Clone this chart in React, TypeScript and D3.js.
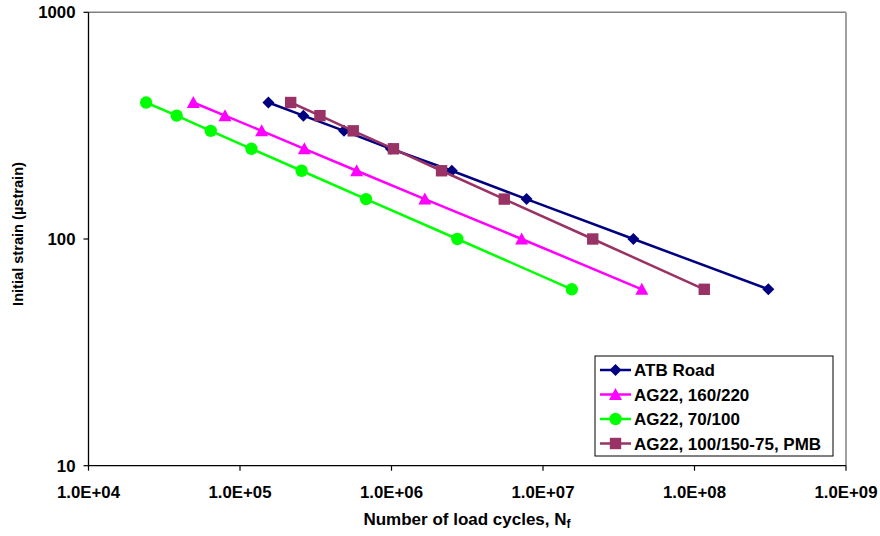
import React from "react";
import * as d3 from "d3";

const strainLevels = [400, 350, 300, 250, 200, 150, 100, 60];
const atbRoad = [1.54e5, 2.62e5, 4.86e5, 9.9e5, 2.5e6, 7.79e6, 3.95e7, 3.07e8];
const ag22_160 = [4.92e4, 7.96e4, 1.39e5, 2.66e5, 5.89e5, 1.66e6, 7.23e6, 4.49e7];
const ag22_70 = [2.4e4, 3.82e4, 6.41e4, 1.19e5, 2.55e5, 6.79e5, 2.72e6, 1.55e7];
const ag22_pmb = [2.16e5, 3.37e5, 5.59e5, 1.03e6, 2.14e6, 5.55e6, 2.13e7, 1.16e8];
const seriesNames = ["ATB Road", "AG22, 160/220", "AG22, 70/100", "AG22, 100/150-75, PMB"];
const xTicks = [1e4, 1e5, 1e6, 1e7, 1e8, 1e9];
const xTickLabels = ["1.0E+04", "1.0E+05", "1.0E+06", "1.0E+07", "1.0E+08", "1.0E+09"];
const yTicks = [10, 100, 1000];

const W = 880, H = 536;
const left = 88.5, right = 846, top = 12.3, bottom = 465.7;

const series = [
  { name: seriesNames[0], xs: atbRoad, color: "#000080", marker: "diamond" },
  { name: seriesNames[1], xs: ag22_160, color: "#FF00FF", marker: "triangle" },
  { name: seriesNames[2], xs: ag22_70, color: "#00FF00", marker: "circle" },
  { name: seriesNames[3], xs: ag22_pmb, color: "#993366", marker: "square" },
];

function Marker({ type, x, y, color }: { type: string; x: number; y: number; color: string }) {
  if (type === "diamond") {
    const s = 6;
    return <path d={`M${x},${y - s}L${x + s},${y}L${x},${y + s}L${x - s},${y}Z`} fill={color} />;
  }
  if (type === "triangle") {
    const s = 6.5;
    return <path d={`M${x},${y - s}L${x + s},${y + s * 0.85}L${x - s},${y + s * 0.85}Z`} fill={color} />;
  }
  if (type === "circle") {
    return <circle cx={x} cy={y} r={6.2} fill={color} />;
  }
  return <rect x={x - 5.7} y={y - 5.7} width={11.4} height={11.4} fill={color} />;
}

export default function App() {
  const xScale = d3.scaleLog().domain([1e4, 1e9]).range([left, right]);
  const yScale = d3.scaleLog().domain([10, 1000]).range([bottom, top]);
  const line = d3
    .line<[number, number]>()
    .x((d) => xScale(d[0]))
    .y((d) => yScale(d[1]));

  const font = "Arial, 'Liberation Sans', Helvetica, sans-serif";
  const legX = 595, legY = 356, legW = 238, legH = 100;

  return (
    <svg width={W} height={H} style={{ position: "absolute", left: 0, top: 0, fontFamily: font }}>
      <rect x={0} y={0} width={W} height={H} fill="#fff" />
      {/* plot frame */}
      <line x1={left} x2={right} y1={top} y2={top} stroke="#808080" strokeWidth={1.5} />
      <line x1={right} x2={right} y1={top} y2={bottom} stroke="#a0a0a0" strokeWidth={2} />
      <line x1={left} x2={left} y1={top} y2={bottom} stroke="#000" strokeWidth={1.3} />
      <line x1={left} x2={right} y1={bottom} y2={bottom} stroke="#000" strokeWidth={1.3} />
      {yTicks.map((t) => (
        <g key={t}>
          <line x1={left - 5} x2={left} y1={yScale(t)} y2={yScale(t)} stroke="#000" strokeWidth={1.2} />
          <text x={left - 13} y={yScale(t) + 6} textAnchor="end" fontSize={16.8} fontWeight="bold">
            {t}
          </text>
        </g>
      ))}
      {xTicks.map((t, i) => (
        <g key={t}>
          <line x1={xScale(t)} x2={xScale(t)} y1={bottom} y2={bottom + 5} stroke="#000" strokeWidth={1.2} />
          <text x={xScale(t)} y={bottom + 32.5} textAnchor="middle" fontSize={16.8} fontWeight="bold">
            {xTickLabels[i]}
          </text>
        </g>
      ))}
      <text x={467} y={525} textAnchor="middle" fontSize={17} fontWeight="bold">
        Number of load cycles, N<tspan fontSize={12} dy={3}>f</tspan>
      </text>
      <text
        transform={`translate(23,234) rotate(-90)`}
        textAnchor="middle"
        fontSize={14.6}
        fontWeight="bold"
      >
        Initial strain (µstrain)
      </text>
      {series.map((s) => {
        const pts = s.xs.map((x, i) => [x, strainLevels[i]] as [number, number]);
        return (
          <g key={s.name}>
            <path d={line(pts) || ""} fill="none" stroke={s.color} strokeWidth={2.5} />
            {pts.map((p, i) => (
              <Marker key={i} type={s.marker} x={xScale(p[0])} y={yScale(p[1])} color={s.color} />
            ))}
          </g>
        );
      })}
      {/* legend */}
      <rect x={legX} y={legY} width={legW} height={legH} fill="#fff" stroke="#000" strokeWidth={1} />
      {series.map((s, i) => {
        const cy = legY + 14 + i * 24.5;
        return (
          <g key={s.name}>
            <line x1={legX + 5} x2={legX + 36} y1={cy} y2={cy} stroke={s.color} strokeWidth={2.5} />
            <Marker type={s.marker} x={legX + 20.5} y={cy} color={s.color} />
            <text x={legX + 39} y={cy + 6} fontSize={17} fontWeight="bold">
              {s.name}
            </text>
          </g>
        );
      })}
    </svg>
  );
}
